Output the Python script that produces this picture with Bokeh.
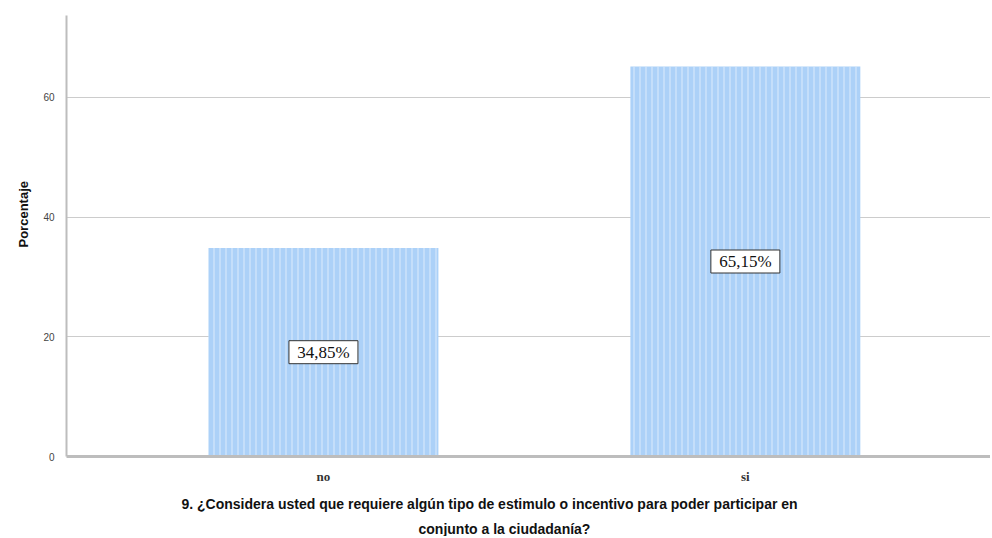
from bokeh.plotting import figure
from bokeh.models import Range1d, FixedTicker, ColumnDataSource, Title
from bokeh.core.properties import value
from bokeh.embed import file_html
from bokeh.resources import INLINE

categories = ["no", "si"]
percentages = [34.85, 65.15]
label_texts = ["34,85%", "65,15%"]
y_ticks = [0, 20, 40, 60]
x_title_lines = ["9. ¿Considera usted que requiere algún tipo de estimulo o incentivo para poder participar en",
                 "conjunto a la ciudadanía?"]
y_title = "Porcentaje"

xpos = [i + 0.5 for i in range(len(categories))]
src = ColumnDataSource(dict(x=xpos, top=percentages,
                            mid=[v / 2 for v in percentages], lab=label_texts))

p = figure(width=990, height=536, output_backend="svg", toolbar_location=None,
           x_range=Range1d(-0.109, 2.081), y_range=Range1d(0, 73.67),
           min_border_left=66, min_border_right=0, min_border_top=15,
           min_border_bottom=79)
p.outline_line_color = None
p.background_fill_color = "white"

p.vbar(x="x", top="top", width=0.545, bottom=0, source=src,
       fill_color="#acd1f8", line_color=None,
       hatch_pattern="vertical_line", hatch_color="#dcebfc",
       hatch_scale=6, hatch_weight=1)

# boxed value labels
p.rect(x="x", y="mid", width=69, height=23, width_units="screen",
       height_units="screen", source=src, fill_color="white",
       line_color="#333333", line_width=1)
p.text(x="x", y="mid", text="lab", source=src,
       text_align="center", text_baseline="middle",
       text_font=value("Liberation Serif"), text_font_size="17px",
       text_color="#111111")

# x axis
p.xaxis.ticker = FixedTicker(ticks=xpos)
p.xaxis.major_label_overrides = {xv: c for xv, c in zip(xpos, categories)}
p.xaxis.major_label_text_font = "Liberation Serif"
p.xaxis.major_label_text_font_style = "bold"
p.xaxis.major_label_text_font_size = "13px"
p.xaxis.major_label_text_color = "#333333"
p.xaxis.major_tick_line_color = None
p.xaxis.minor_tick_line_color = None
p.xaxis.axis_line_color = "#bdbdbd"
p.xaxis.axis_line_width = 3
p.xaxis.major_label_standoff = 6

for txt, off, so in zip(x_title_lines, [115, 352], [14, 0]):
    t = Title(text=txt, align="left", offset=off, standoff=so,
              text_font="Liberation Sans", text_font_style="bold",
              text_font_size="14px", text_color="#111111")
    p.add_layout(t, "below")

# y axis
p.yaxis.ticker = FixedTicker(ticks=y_ticks)
p.yaxis.major_label_text_font = "Liberation Sans"
p.yaxis.major_label_text_font_size = "10px"
p.yaxis.major_label_text_color = "#444444"
p.yaxis.major_tick_line_color = None
p.yaxis.minor_tick_line_color = None
p.yaxis.axis_line_color = "#bdbdbd"
p.yaxis.axis_line_width = 2
p.yaxis.major_label_standoff = 6

yt = Title(text=y_title, align="left", offset=209, standoff=20,
           text_font="Liberation Sans", text_font_style="bold",
           text_font_size="13px", text_color="#111111")
p.add_layout(yt, "left")

p.xgrid.visible = False
p.ygrid.ticker = FixedTicker(ticks=y_ticks[1:])
p.ygrid.grid_line_color = "#cccccc"
p.ygrid.grid_line_width = 1

open("out.html", "w").write(file_html(p, INLINE))
